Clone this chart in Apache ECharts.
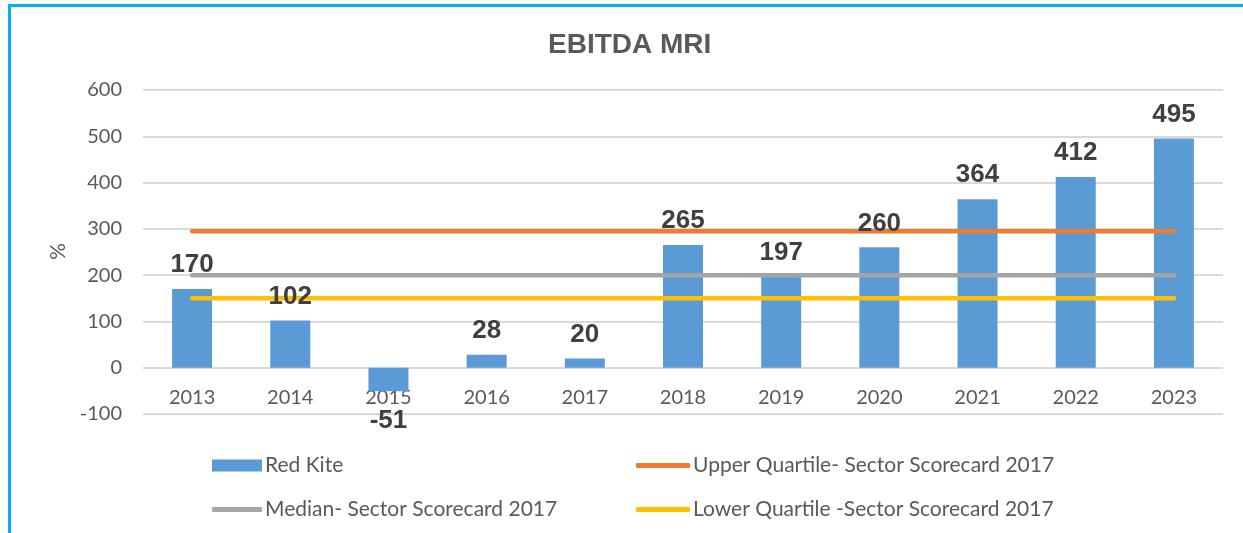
<!DOCTYPE html>
<html><head><meta charset="utf-8">
<script src="https://cdn.jsdelivr.net/npm/echarts@6/dist/echarts.min.js"></script>
<style>html,body{margin:0;padding:0;background:#fff}#c{width:1243px;height:533px}</style>
</head><body><div id="c"></div>
<script>
const categories = ['2013','2014','2015','2016','2017','2018','2019','2020','2021','2022','2023'];
const redKite = [170, 102, -51, 28, 20, 265, 197, 260, 364, 412, 495];
const upperQuartile = [295,295,295,295,295,295,295,295,295,295,295];
const median = [200,200,200,200,200,200,200,200,200,200,200];
const lowerQuartile = [150,150,150,150,150,150,150,150,150,150,150];
const yTicks = {min:-100, max:600, interval:100};

const tickFont = 'Lato, "Open Sans", sans-serif';
const boldFont = '"Liberation Sans", Arial, sans-serif';
const chart = echarts.init(document.getElementById('c'));
const labelItems = redKite.map(v => ({value: v,
  label: v < 0 ? {position:'bottom', distance:17} : {position:'top', distance:11}}));
function lineSeries(name, data, color){
  return {name, type:'line', data, symbol:'none', z:3,
    lineStyle:{color, width:4.5, cap:'round'}, itemStyle:{color}, emphasis:{disabled:true}};
}
function legend(name, left, top, w, h, icon){
  return {data:[{name, icon}], left, top, itemWidth:w, itemHeight:h, itemGap:0, padding:0,
    textStyle:{color:'#595959', fontSize:21, fontFamily:tickFont, padding:[0,0,0,-2]}, selectedMode:false};
}
chart.setOption({
  animation:false,
  title:{text:'EBITDA MRI', left:548, top:31, padding:0,
    textStyle:{fontFamily:boldFont, fontWeight:'bold', fontSize:28, color:'#595959'}},
  graphic:[
    {type:'rect', shape:{x:8, y:4, width:1240, height:3}, style:{fill:'#00B0F0'}},
    {type:'rect', shape:{x:8, y:4, width:3, height:540}, style:{fill:'#00B0F0'}},
    {type:'text', x:67, y:243, rotation:-Math.PI/2, style:{text:'%', fill:'#595959', font:'21px Lato, sans-serif'}}
  ],
  grid:{left:143, right:20, top:90, bottom:119},
  legend:[
    legend('Red Kite', 212, 455, 50, 12, 'rect'),
    legend('Upper Quartile- Sector Scorecard 2017', 636, 455, 54, 5, 'roundRect'),
    legend('Median- Sector Scorecard 2017', 212, 499, 50, 5, 'roundRect'),
    legend('Lower Quartile -Sector Scorecard 2017', 636, 499, 54, 5, 'roundRect')
  ],
  xAxis:{type:'category', data:categories, offset:-46,
    axisLine:{show:false, onZero:false}, axisTick:{show:false},
    axisLabel:{color:'#595959', fontSize:20, fontFamily:tickFont, margin:20}},
  yAxis:{type:'value', min:yTicks.min, max:yTicks.max, interval:yTicks.interval,
    axisLabel:{color:'#595959', fontSize:20, fontFamily:tickFont, margin:21},
    splitLine:{lineStyle:{color:'#D9D9D9', width:2}}},
  series:[
    {name:'Red Kite', type:'bar', data:redKite, barWidth:40, z:2, itemStyle:{color:'#5B9BD5'}, emphasis:{disabled:true}},
    lineSeries('Upper Quartile- Sector Scorecard 2017', upperQuartile, '#ED7D31'),
    lineSeries('Median- Sector Scorecard 2017', median, '#A5A5A5'),
    lineSeries('Lower Quartile -Sector Scorecard 2017', lowerQuartile, '#FFC000'),
    {name:'labels', type:'bar', data:labelItems, barWidth:40, barGap:'-100%', z:5,
      itemStyle:{color:'rgba(0,0,0,0)'}, emphasis:{disabled:true}, silent:true,
      label:{show:true, color:'#404040', fontSize:26, fontWeight:'bold', fontFamily:boldFont}}
  ]
});
</script></body></html>
